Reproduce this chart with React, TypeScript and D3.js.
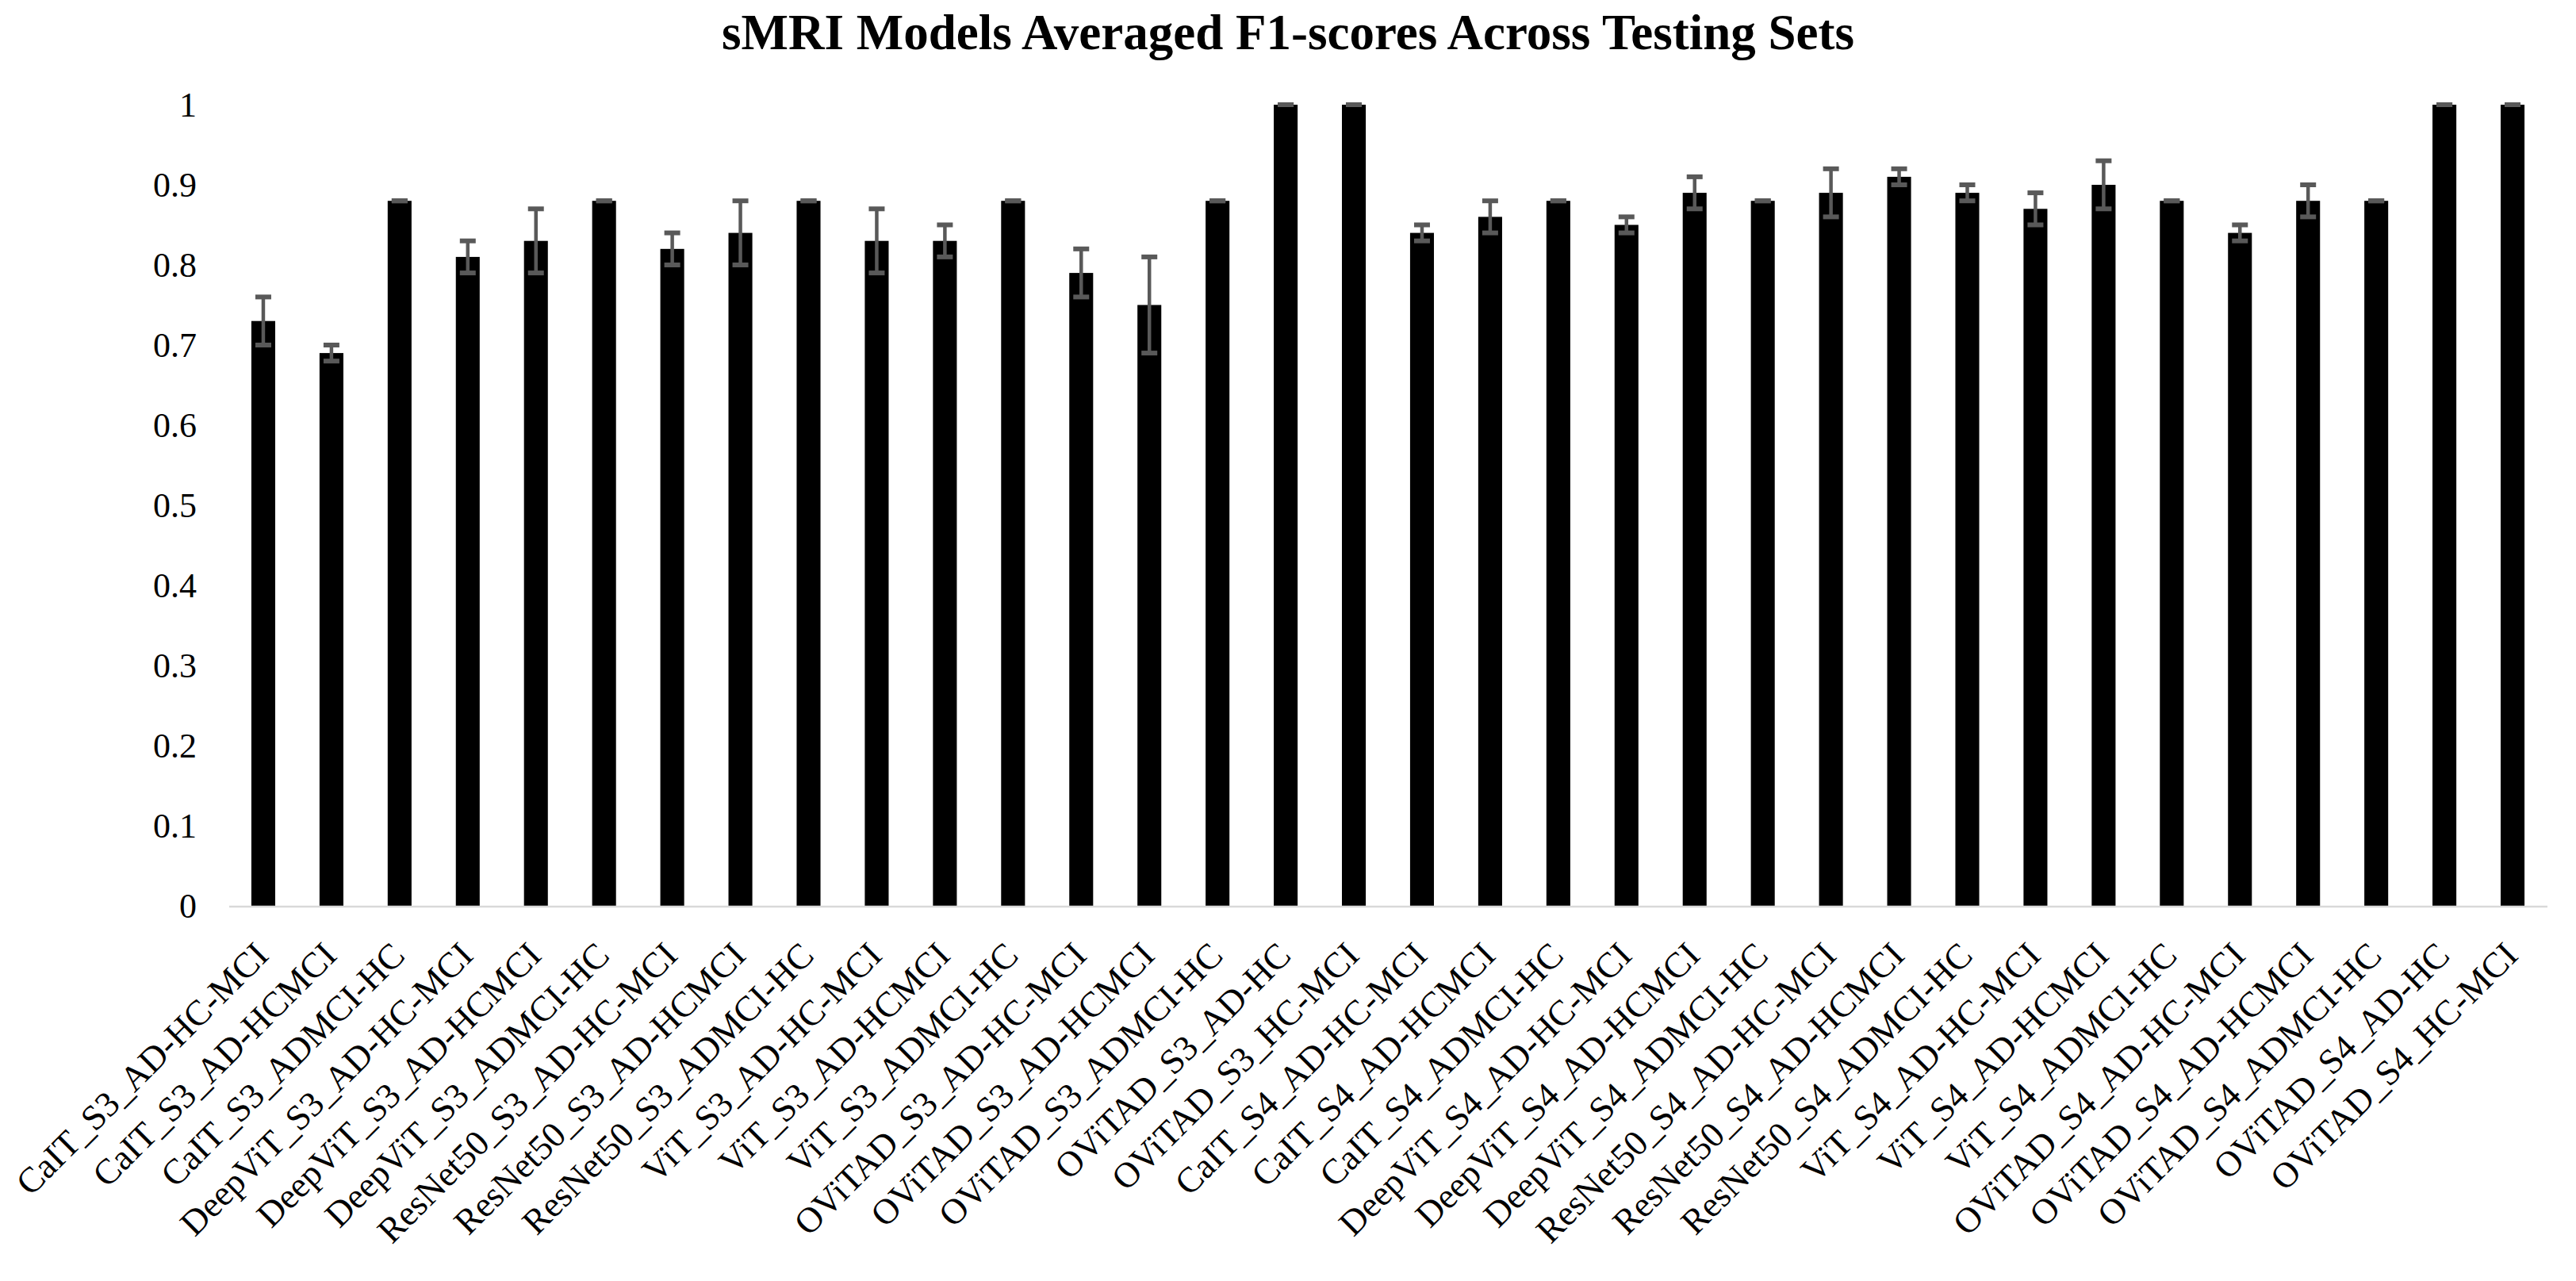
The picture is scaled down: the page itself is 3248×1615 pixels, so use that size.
import React, { useEffect } from "react";
import * as d3 from "d3";

const categories = [
  "CaIT_S3_AD-HC-MCI",
  "CaIT_S3_AD-HCMCI",
  "CaIT_S3_ADMCI-HC",
  "DeepViT_S3_AD-HC-MCI",
  "DeepViT_S3_AD-HCMCI",
  "DeepViT_S3_ADMCI-HC",
  "ResNet50_S3_AD-HC-MCI",
  "ResNet50_S3_AD-HCMCI",
  "ResNet50_S3_ADMCI-HC",
  "ViT_S3_AD-HC-MCI",
  "ViT_S3_AD-HCMCI",
  "ViT_S3_ADMCI-HC",
  "OViTAD_S3_AD-HC-MCI",
  "OViTAD_S3_AD-HCMCI",
  "OViTAD_S3_ADMCI-HC",
  "OViTAD_S3_AD-HC",
  "OViTAD_S3_HC-MCI",
  "CaIT_S4_AD-HC-MCI",
  "CaIT_S4_AD-HCMCI",
  "CaIT_S4_ADMCI-HC",
  "DeepViT_S4_AD-HC-MCI",
  "DeepViT_S4_AD-HCMCI",
  "DeepViT_S4_ADMCI-HC",
  "ResNet50_S4_AD-HC-MCI",
  "ResNet50_S4_AD-HCMCI",
  "ResNet50_S4_ADMCI-HC",
  "ViT_S4_AD-HC-MCI",
  "ViT_S4_AD-HCMCI",
  "ViT_S4_ADMCI-HC",
  "OViTAD_S4_AD-HC-MCI",
  "OViTAD_S4_AD-HCMCI",
  "OViTAD_S4_ADMCI-HC",
  "OViTAD_S4_AD-HC",
  "OViTAD_S4_HC-MCI",
];

// mean F1-score per model / testing set
const f1Means = [
  0.73, 0.69, 0.88, 0.81, 0.83, 0.88, 0.82, 0.84, 0.88, 0.83, 0.83, 0.88,
  0.79, 0.75, 0.88, 1.0, 1.0, 0.84, 0.86, 0.88, 0.85, 0.89, 0.88, 0.89,
  0.91, 0.89, 0.87, 0.9, 0.88, 0.84, 0.88, 0.88, 1.0, 1.0,
];

// standard deviation shown as error bars
const f1Errors = [
  0.03, 0.01, 0, 0.02, 0.04, 0, 0.02, 0.04, 0, 0.04, 0.02, 0, 0.03, 0.06, 0,
  0, 0, 0.01, 0.02, 0, 0.01, 0.02, 0, 0.03, 0.01, 0.01, 0.02, 0.03, 0, 0.01,
  0.02, 0, 0, 0,
];

const yTicks = [0, 0.1, 0.2, 0.3, 0.4, 0.5, 0.6, 0.7, 0.8, 0.9, 1];

const TITLE = "sMRI Models Averaged F1-scores Across Testing Sets";

const WIDTH = 3248;
const HEIGHT = 1615;
const FONT = "'Times New Roman', 'Liberation Serif', serif";

const App: React.FC = () => {
  useEffect(() => {
    document.body.style.margin = "0";
  }, []);

  const x = d3
    .scaleBand<string>()
    .domain(categories)
    .range([289, 3211])
    .paddingInner(0.65)
    .paddingOuter(0.325);

  const y = d3.scaleLinear().domain([0, 1]).range([1142, 132]);

  const fmt = (d: number) => (d === 0 || d === 1 ? String(d) : d3.format(".1f")(d));
  const capHalf = 10;

  return (
    <svg
      width={WIDTH}
      height={HEIGHT}
      viewBox={`0 0 ${WIDTH} ${HEIGHT}`}
      style={{ display: "block", background: "#fff" }}
      fontFamily={FONT}
    >
      <text
        x={WIDTH / 2}
        y={62}
        textAnchor="middle"
        fontSize={63}
        fontWeight="bold"
        fill="#000"
      >
        {TITLE}
      </text>

      {/* y tick labels, no axis line or gridlines */}
      <g>
        {yTicks.map((t) => (
          <text
            key={t}
            x={248}
            y={y(t)}
            dy="0.34em"
            textAnchor="end"
            fontSize={44}
            fill="#000"
          >
            {fmt(t)}
          </text>
        ))}
      </g>

      {/* bars */}
      <g>
        {categories.map((c, i) => (
          <rect
            key={c}
            x={x(c)}
            y={y(f1Means[i])}
            width={x.bandwidth()}
            height={y(0) - y(f1Means[i])}
            fill="#000"
          />
        ))}
      </g>

      {/* x baseline */}
      <line
        x1={289}
        x2={3212}
        y1={y(0) + 1}
        y2={y(0) + 1}
        stroke="#d9d9d9"
        strokeWidth={2.5}
      />

      {/* error bars */}
      <g stroke="#595959">
        {categories.map((c, i) => {
          const cx = (x(c) as number) + x.bandwidth() / 2;
          const hi = y(f1Means[i] + f1Errors[i]);
          const lo = y(f1Means[i] - f1Errors[i]);
          return (
            <g key={c}>
              <line x1={cx} x2={cx} y1={hi} y2={lo} strokeWidth={4.5} />
              <line
                x1={cx - capHalf}
                x2={cx + capHalf}
                y1={hi}
                y2={hi}
                strokeWidth={6}
              />
              <line
                x1={cx - capHalf}
                x2={cx + capHalf}
                y1={lo}
                y2={lo}
                strokeWidth={6}
              />
            </g>
          );
        })}
      </g>

      {/* rotated category labels */}
      <g>
        {categories.map((c) => {
          const cx = (x(c) as number) + x.bandwidth() / 2;
          return (
            <text
              key={c}
              transform={`translate(${cx + 9},${1207}) rotate(-45)`}
              textAnchor="end"
              fontSize={45}
              fill="#000"
            >
              {c}
            </text>
          );
        })}
      </g>
    </svg>
  );
};

export default App;
